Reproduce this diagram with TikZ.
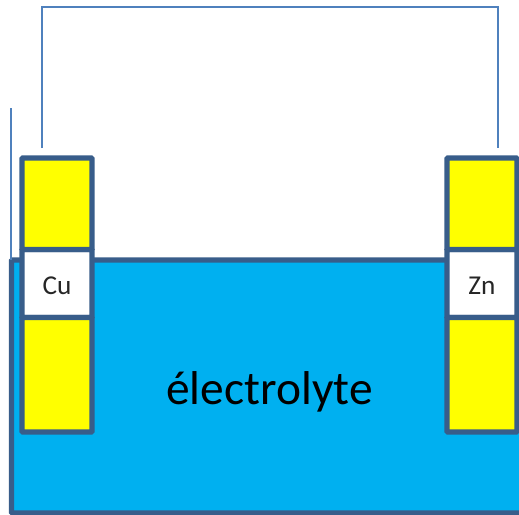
\documentclass[tikz,border=0pt]{standalone}
\usepackage{fontspec}
\setmainfont{Carlito}
\usetikzlibrary{positioning}
\definecolor{cellblue}{HTML}{00B0F0}
\definecolor{cellborder}{HTML}{385D8A}
\definecolor{cellyellow}{HTML}{FFFF00}
\definecolor{wireblue}{HTML}{4F81BD}

\begin{document}
\begin{tikzpicture}[
  tank/.style={draw=cellborder, line width=3pt, fill=cellblue, rounded corners=0.5pt,
               minimum width=10.3cm, minimum height=5.06cm, inner sep=0pt, outer sep=0pt,
               anchor=north west},
  metal/.style={draw=cellborder, line width=3pt, fill=cellyellow, rounded corners=0.5pt,
                minimum width=1.4cm, inner sep=0pt, outer sep=0pt},
  plate/.style={metal, fill=white, minimum height=1.36cm, font=\fontsize{15.5pt}{18pt}\selectfont,
                text=black!85, text height=12.5pt},
  wire/.style={draw=wireblue, line width=1.3pt},
]
  \useasboundingbox (0,0) rectangle (10.38,-10.3);
  \node[tank] (bath) at (0.23,-5.2) {};
  \node[font=\fontsize{27pt}{32pt}\selectfont, text=black] (electrolyte) at (5.39,-7.83) {électrolyte};

  % left electrode
  \node[plate] (cu) at (1.14,-5.67) {Cu};
  \node[metal, minimum height=1.83cm, above=0pt of cu] (cutop) {};
  \node[metal, minimum height=2.29cm, below=0pt of cu] (cubottom) {};

  % right electrode
  \node[plate] (zn) at (9.64,-5.67) {Zn};
  \node[metal, minimum height=1.83cm, above=0pt of zn] (zntop) {};
  \node[metal, minimum height=2.29cm, below=0pt of zn] (znbottom) {};

  \coordinate (cuend) at (0.84,-2.96);
  \coordinate (znend) at (9.96,-2.96);
  \coordinate (lead) at (0.22,-2.16);
  \draw[wire] (cuend) -- (0.84,-0.14) -- (9.96,-0.14) -- (znend);
  \draw[wire] (lead) -- (lead |- bath.north);
\end{tikzpicture}
\end{document}
